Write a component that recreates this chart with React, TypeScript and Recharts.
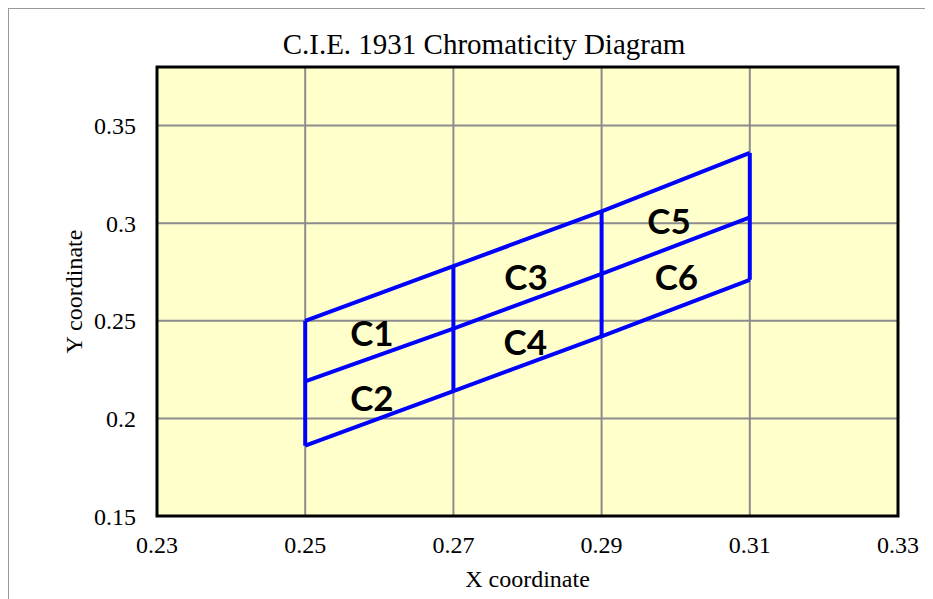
import React from "react";
import {
  CartesianGrid,
  ReferenceArea,
  Scatter,
  ScatterChart,
  XAxis,
  YAxis,
} from "recharts";

// column positions of the grid of cells (x coordinate)
const columnX = [0.25, 0.27, 0.29, 0.31];
// y values of the three slanted lines at each column
const topLineY = [0.25, 0.278, 0.306, 0.336];
const middleLineY = [0.219, 0.246, 0.274, 0.303];
const bottomLineY = [0.186, 0.214, 0.242, 0.271];

// cell labels
const cellNames = ["C1", "C2", "C3", "C4", "C5", "C6"];
const cellX = [0.259, 0.259, 0.2798, 0.2797, 0.2991, 0.3001];
const cellY = [0.2445, 0.2112, 0.2727, 0.2394, 0.3018, 0.2727];

const xTicks = [0.23, 0.25, 0.27, 0.29, 0.31, 0.33];
const yTicks = [0.15, 0.2, 0.25, 0.3, 0.35];

const toPoints = (ys: number[]) => columnX.map((x, i) => ({ x, y: ys[i] }));

const slanted = [toPoints(topLineY), toPoints(middleLineY), toPoints(bottomLineY)];
const verticals = columnX.map((x, i) => [
  { x, y: bottomLineY[i] },
  { x, y: topLineY[i] },
]);
const labels = cellNames.map((name, i) => ({ name, x: cellX[i], y: cellY[i] }));

const BLUE = "#0000FF";
const serif = "'Liberation Serif', 'Times New Roman', serif";

const noDot = () => <g />;

const CellLabel = (props: any) => (
  <text
    x={props.cx}
    y={props.cy}
    textAnchor="middle"
    dominantBaseline="central"
    fontFamily="Lato, 'Open Sans', sans-serif"
    fontWeight={700}
    fontSize={35}
    fill="#000"
  >
    {props.payload.name}
  </text>
);

export default function App() {
  const tick = { fill: "#000", fontSize: 24, fontFamily: serif };
  return (
    <div
      style={{
        position: "relative",
        width: 924,
        height: 590,
        borderLeft: "1px solid #999",
        borderTop: "1px solid #999",
      }}
    >
      <div
        style={{
          position: "absolute",
          left: 175,
          top: 21,
          width: 600,
          textAlign: "center",
          fontFamily: serif,
          fontSize: 29,
          lineHeight: "28px",
          color: "#000",
        }}
      >
        C.I.E. 1931 Chromaticity Diagram
      </div>
      <ScatterChart
        width={924}
        height={590}
        margin={{ top: 58, right: 35, bottom: 8, left: 20 }}
      >
        <CartesianGrid
          stroke="#8c8c8c"
          strokeWidth={2}
          fill="#FFFFCC"
          fillOpacity={1}
        />
        <XAxis
          type="number"
          dataKey="x"
          domain={[0.23, 0.33]}
          ticks={xTicks}
          allowDataOverflow
          axisLine={false}
          tickLine={false}
          tickMargin={14}
          height={75}
          tick={tick}
          label={{
            value: "X coordinate",
            position: "insideBottom",
            offset: 4,
            style: { fill: "#000", fontSize: 24, fontFamily: serif },
          }}
        />
        <YAxis
          type="number"
          dataKey="y"
          domain={[0.15, 0.38]}
          ticks={yTicks}
          allowDataOverflow
          axisLine={false}
          tickLine={false}
          tickMargin={15}
          width={128}
          tick={tick}
          label={{
            value: "Y coordinate",
            angle: -90,
            position: "insideLeft",
            offset: 44,
            style: {
              fill: "#000",
              fontSize: 24,
              fontFamily: serif,
              textAnchor: "middle",
            },
          }}
        />
        <ReferenceArea
          x1={0.23}
          x2={0.33}
          y1={0.15}
          y2={0.38}
          fill="none"
          stroke="#000"
          strokeWidth={3}
          ifOverflow="visible"
        />
        {slanted.map((pts, i) => (
          <Scatter
            key={"s" + i}
            data={pts}
            line={{ stroke: BLUE, strokeWidth: 4 }}
            shape={noDot}
            isAnimationActive={false}
          />
        ))}
        {verticals.map((pts, i) => (
          <Scatter
            key={"v" + i}
            data={pts}
            line={{ stroke: BLUE, strokeWidth: 4 }}
            shape={noDot}
            isAnimationActive={false}
          />
        ))}
        <Scatter data={labels} shape={CellLabel} isAnimationActive={false} />
      </ScatterChart>
    </div>
  );
}
